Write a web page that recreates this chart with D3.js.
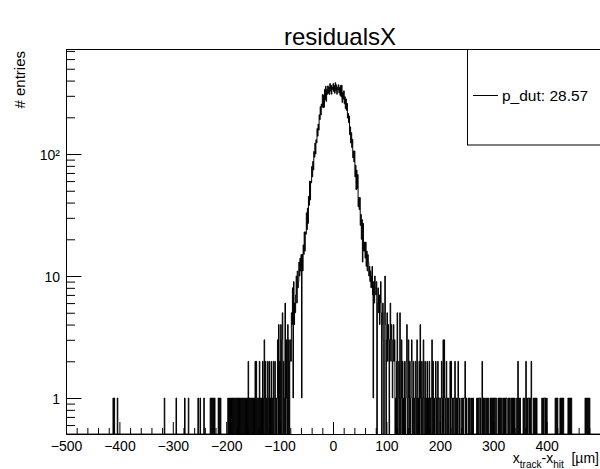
<!DOCTYPE html>
<html><head><meta charset="utf-8">
<script src="https://cdn.jsdelivr.net/npm/d3@7"></script>
<style>
body{margin:0;background:#fff}
svg{display:block}
text{font-family:"Liberation Sans",Arial,Helvetica,sans-serif;fill:#000}
</style>
</head><body>
<svg id="c" width="600" height="469"></svg>
<script>
// ---- data (histogram residualsX, 1 µm bins from -500 to 500) ----
const xRange = [-500, 500];
const binWidth = 1;
const yRange = [0.507, 726];
const xTickValues = [-500, -400, -300, -200, -100, 0, 100, 200, 300, 400];
const yMajorTicks = [1, 10, 100];
const yTickLabels = ["1", "10", "10²"];
const chartTitle = "residualsX";
const legendLabel = "p_dut: 28.57";

// isolated single entries far in the left tail (bin lower edges, µm)
const farLeftHits = [-412, -410, -404, -316, -294, -278, -271];

// left tail: bins from -260 to -61
const leftTailStart = -260;
const leftTail = [
  0,0,0,0,0,0,0,1,0,0,
  0,1,0,0,0,0,0,0,1,0,
  0,0,0,0,0,0,0,0,0,0,
  1,0,1,0,1,0,1,0,1,0,
  0,0,0,0,0,1,0,1,0,1,
  0,0,0,0,0,0,0,0,0,0,
  0,0,0,1,0,1,0,1,0,1,
  0,1,0,1,0,1,0,1,0,1,
  0,1,0,1,0,1,0,1,0,1,
  0,1,0,1,0,1,0,1,0,1,
  0,2,0,1,0,1,0,1,0,1,
  0,1,0,1,2,0,2,0,1,0,
  1,0,2,0,1,0,1,0,2,0,
  1,3,0,2,0,1,0,2,0,1,
  2,0,1,0,2,0,1,0,2,0,
  1,2,0,1,0,1,3,0,4,0,
  2,0,4,0,3,5,0,2,0,1,
  6,0,3,1,0,4,0,3,0,2,
  3,2,5,4,8,1,9,4,6,5,
  7,10,6,11,8,9,13,10,14,11
];

// core: bins from -60 to 59
const coreStart = -60;
const core = [
  15,1,15,11,18,15,23,16,23,22,
  33,24,36,27,45,38,60,42,60,58,
  79,65,87,74,105,94,123,100,131,123,
  162,140,176,157,210,191,245,209,257,244,
  308,239,304,242,339,279,360,270,337,308,
  362,314,354,308,378,328,367,309,355,339,
  378,326,364,315,385,332,369,309,353,335,
  370,317,352,302,364,294,367,265,319,282,
  330,258,295,236,283,228,260,197,215,181,
  205,144,167,123,150,113,132,93,106,86,
  106,65,81,51,74,52,68,37,44,35,
  44,26,32,20,29,13,27,16,19,16
];

// right tail: bins from 60 to 499
const rightTailStart = 60;
const rightTail = [
  14,19,12,16,11,15,13,10,12,9,
  11,8,10,12,7,1,9,6,10,8,
  7,9,0,6,8,5,7,4,6,9,
  5,0,4,6,3,0,5,10,4,0,
  3,5,2,4,3,0,3,6,2,4,
  3,1,2,4,2,3,0,1,0,2,
  5,0,1,2,0,5,0,1,3,0,
  2,0,1,0,2,0,1,2,4,0,
  1,3,0,2,0,1,2,3,0,1,
  2,0,1,0,2,1,0,3,0,1,
  0,2,0,4,1,0,2,0,1,3,
  0,1,2,0,1,0,2,0,1,0,
  2,0,1,0,1,3,0,2,0,1,
  0,1,2,0,1,0,2,1,0,1,
  1,0,1,2,0,1,3,0,3,1,
  0,1,2,0,1,0,1,0,0,2,
  0,2,1,0,1,1,0,1,2,0,
  1,0,1,0,2,1,0,1,0,0,
  0,1,0,1,0,1,1,2,0,1,
  0,0,0,1,0,1,0,0,1,0,
  1,0,1,0,0,0,0,0,0,1,
  0,1,0,1,1,0,1,0,0,2,
  0,1,0,1,0,0,1,0,1,0,
  1,0,0,0,1,0,1,0,1,0,
  1,0,1,0,1,1,0,0,0,1,
  0,1,0,1,0,1,0,0,1,0,
  1,0,1,0,1,1,0,0,1,0,
  1,0,0,1,0,1,0,1,0,0,
  1,0,0,0,1,0,2,0,1,0,
  1,0,0,0,0,0,1,0,1,0,
  0,2,0,1,0,1,1,0,1,0,
  1,2,0,0,0,1,0,1,0,1,
  0,1,0,0,0,0,0,0,0,0,
  0,1,0,1,0,1,1,0,1,0,
  1,0,0,0,0,0,0,0,0,0,
  0,0,0,0,0,0,1,0,1,0,
  1,0,0,0,0,1,0,1,0,1,
  0,1,0,0,0,0,0,0,0,0,
  1,0,1,0,1,0,1,0,0,0,
  0,0,0,0,0,0,0,0,0,0,
  0,0,0,0,0,0,0,0,0,0,
  0,0,1,0,1,0,1,0,1,0,
  1,0,0,0,0,0,0,0,0,0,
  0,0,0,0,0,0,0,0,0,0
];

// ---- drawing ----
const svg = d3.select("#c");
const frame = {left: 66, right: 600, top: 49, bottom: 434};
const x = d3.scaleLinear().domain(xRange).range([frame.left, frame.right]);
const y = d3.scaleLog().domain(yRange).range([frame.bottom, frame.top]);

const nBins = Math.round((xRange[1] - xRange[0]) / binWidth);
const counts = new Array(nBins).fill(0);
const put = (lo, v) => { const i = Math.round((lo - xRange[0]) / binWidth); if (i >= 0 && i < nBins) counts[i] += v; };
farLeftHits.forEach(p => put(p, 1));
leftTail.forEach((v, k) => put(leftTailStart + k * binWidth, v));
core.forEach((v, k) => put(coreStart + k * binWidth, v));
rightTail.forEach((v, k) => put(rightTailStart + k * binWidth, v));

// frame top line
svg.append("line").attr("x1", frame.left).attr("x2", frame.right)
  .attr("y1", frame.top + 0.5).attr("y2", frame.top + 0.5).attr("stroke", "#000");

// histogram step line
const yb = frame.bottom;
const pts = [[x(xRange[0]), yb]];
counts.forEach((c, i) => {
  const lo = xRange[0] + i * binWidth;
  const yy = c > 0 ? Math.max(frame.top, y(c)) : yb;
  pts.push([x(lo), yy], [x(lo + binWidth), yy]);
});
pts.push([x(xRange[1]), yb]);
svg.append("path").attr("d", d3.line()(pts))
  .attr("fill", "none").attr("stroke", "#000").attr("stroke-width", 1);

// x axis
const xMinor = d3.range(xRange[0], xRange[1] + 1, 20).filter(v => v % 100 !== 0);
svg.append("g").attr("transform", `translate(0,${frame.bottom})`)
  .call(d3.axisBottom(x).tickValues(xMinor).tickSize(-6).tickSizeOuter(0).tickFormat(""))
  .call(g => g.select(".domain").remove())
  .call(g => g.selectAll("line").attr("stroke", "#000"));
const gx = svg.append("g").attr("transform", `translate(0,${frame.bottom})`)
  .call(d3.axisBottom(x).tickValues(xTickValues).tickSize(-12).tickSizeOuter(0));
gx.attr("font-size", 14).attr("font-family", '"Liberation Sans",Arial,sans-serif');
gx.select(".domain").attr("stroke", "#000");
gx.selectAll("line").attr("stroke", "#000");
gx.selectAll("text").attr("y", 17).attr("dy", 0).attr("fill", "#000");

// y axis
const yMinor = [0.6,0.7,0.8,0.9,2,3,4,5,6,7,8,9,20,30,40,50,60,70,80,90,200,300,400,500,600,700];
svg.append("g").attr("transform", `translate(${frame.left},0)`)
  .call(d3.axisLeft(y).tickValues(yMinor).tickSize(-9).tickSizeOuter(0).tickFormat(""))
  .call(g => g.select(".domain").remove())
  .call(g => g.selectAll("line").attr("stroke", "#000"));
const gy = svg.append("g").attr("transform", `translate(${frame.left},0)`)
  .call(d3.axisLeft(y).tickValues(yMajorTicks).tickSize(-15.5).tickSizeOuter(0).tickPadding(6)
    .tickFormat((d, i) => yTickLabels[i]));
gy.attr("font-size", 14).attr("font-family", '"Liberation Sans",Arial,sans-serif');
gy.select(".domain").attr("stroke", "#000");
gy.selectAll("line").attr("stroke", "#000");
gy.selectAll("text").attr("fill", "#000").attr("dy", "0.36em");

// title
svg.append("text").attr("x", 340).attr("y", 45).attr("text-anchor", "middle")
  .attr("font-size", 24).text(chartTitle);

// y title
svg.append("text").attr("transform", "translate(24.5,51) rotate(-90)")
  .attr("text-anchor", "end").attr("font-size", 15).text("# entries");

// x title
const xt = svg.append("text").attr("x", 599).attr("y", 463).attr("text-anchor", "end").attr("font-size", 14);
xt.append("tspan").text("x");
xt.append("tspan").attr("dy", 5).attr("font-size", 10).text("track");
xt.append("tspan").attr("dy", -5).text("-x");
xt.append("tspan").attr("dy", 5).attr("font-size", 10).text("hit");
xt.append("tspan").attr("dy", -5).text("\u00a0 [µm]");

// legend
const lg = svg.append("g");
lg.append("rect").attr("x", 467.5).attr("y", 49.5).attr("width", 150).attr("height", 95.5)
  .attr("fill", "#fff").attr("stroke", "#000");
lg.append("line").attr("x1", 473).attr("x2", 498).attr("y1", 95.5).attr("y2", 95.5).attr("stroke", "#000");
lg.append("text").attr("x", 502).attr("y", 100.5).attr("font-size", 15.5).text(legendLabel);
</script>
</body></html>
